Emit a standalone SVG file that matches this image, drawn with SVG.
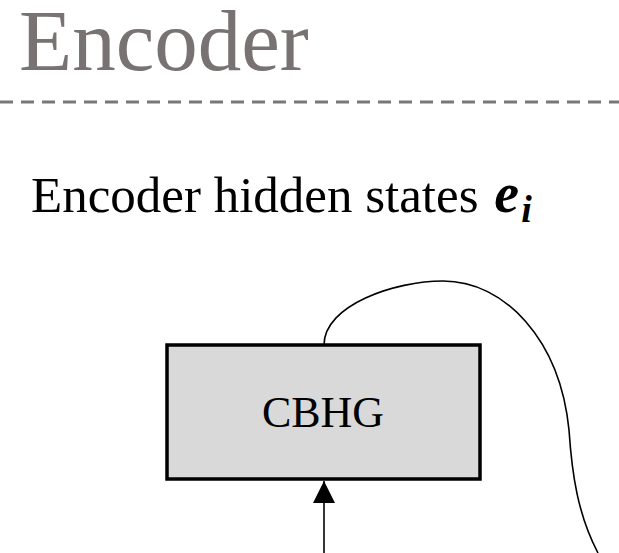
<svg xmlns="http://www.w3.org/2000/svg" width="619" height="553" viewBox="0 0 619 553">
<style>
.serif{font-family:"Liberation Serif","Times New Roman",serif}
.title{fill:#787372;font-size:87px}
.node rect{fill:#d9d9d9;stroke:#000;stroke-width:3.5}
.conn{fill:none;stroke:#000;stroke-width:1.6}
</style>
<defs>
<marker id="ah" viewBox="0 0 10 10" refX="10" refY="5" markerWidth="22" markerHeight="22" markerUnits="userSpaceOnUse" orient="auto">
<path d="M0,0 L10,5 L0,10 z" fill="#000"/>
</marker>
</defs>
<rect width="619" height="553" fill="#fff"/>
<g id="title">
<text class="serif title" x="19" y="70">Encoder</text>
<line x1="0" y1="102" x2="619" y2="102" stroke="#787878" stroke-width="3" stroke-dasharray="13,8"/>
</g>
<g id="label">
<text class="serif" x="31" y="212" font-size="51" fill="#000">Encoder hidden states <tspan font-weight="bold" font-style="italic" font-size="56" dx="3">e</tspan><tspan font-weight="bold" font-style="italic" font-size="38" dx="2" dy="10">i</tspan></text>
</g>
<g id="cbhg" class="node">
<rect x="167" y="345" width="313" height="134"/>
<text class="serif" x="323" y="427" font-size="44" text-anchor="middle" fill="#000">CBHG</text>
</g>
<g id="connectors">
<line class="conn" x1="324" y1="553" x2="324" y2="481" marker-end="url(#ah)"/>
<path class="conn" d="M324,345 C324,305 395,281 443,281 C505,281 560,340 569,430 C572,475 578,515 598,553"/>
</g>
</svg>
